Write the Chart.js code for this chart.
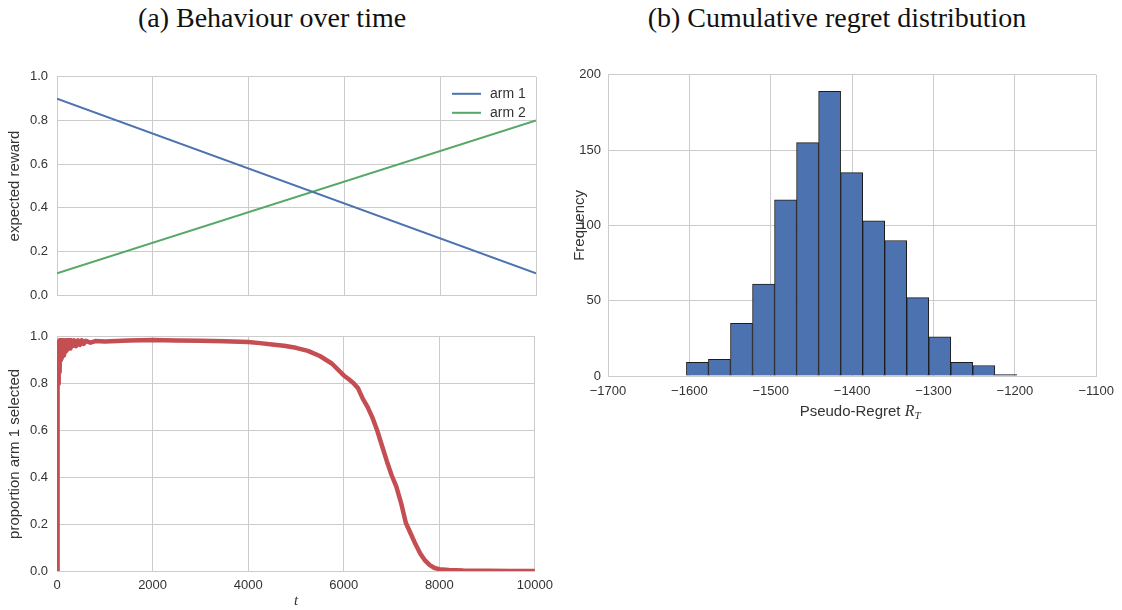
<!DOCTYPE html>
<html>
<head>
<meta charset="utf-8">
<script src="https://cdn.jsdelivr.net/npm/chart.js@4"></script>
<style>
  body { margin: 0; background: #fff; width: 1122px; height: 610px; overflow: hidden; position: relative; }
  .box { position: absolute; }
  .title { position: absolute; font-family: "Liberation Serif", "DejaVu Serif", serif; font-size: 28px; color: #111; white-space: nowrap; transform: translateX(-50%); }
</style>
</head>
<body>
<div class="title" style="left:272px; top:2px;">(a) Behaviour over time</div>
<div class="title" style="left:837px; top:2px;">(b) Cumulative regret distribution</div>

<div class="box" style="left:0; top:60px; width:560px; height:252px;"><canvas id="reward"></canvas></div>
<div class="box" style="left:0; top:320px; width:560px; height:290px;"><canvas id="proportion"></canvas></div>
<div class="box" style="left:560px; top:60px; width:562px; height:370px;"><canvas id="regret"></canvas></div>

<script>
// expected reward of each arm
const tArms = [0, 10000];
const arm1Reward = [0.9, 0.1];
const arm2Reward = [0.1, 0.8];

// proportion of pulls going to arm 1 (early part follows the noisy band)
const tProp = [0, 4, 8, 12, 16, 20, 25, 30, 35, 40, 45, 50, 60, 70, 80, 90, 100, 115, 130, 145, 160,
  180, 200, 220, 240, 260, 280, 300, 330, 360, 400, 440, 480, 520, 560, 600, 700, 800, 1000, 1500,
  2000, 2500, 3000, 3500, 4000, 4250, 4500, 4750, 5000, 5250, 5500, 5750, 6000, 6100, 6200, 6300,
  6400, 6500, 6600, 6700, 6800, 6900, 7000, 7100, 7200, 7300, 7400, 7500, 7600, 7700, 7800, 7900,
  8000, 8200, 8500, 9000, 9500, 10000];
const propArm1 = [0.0, 0.58, 0.37, 0.8, 0.6, 0.9, 0.8, 0.97, 0.82, 0.98, 0.85, 0.985, 0.86, 0.985,
  0.9, 0.985, 0.91, 0.985, 0.92, 0.985, 0.93, 0.985, 0.94, 0.985, 0.95, 0.985, 0.95, 0.985, 0.96,
  0.985, 0.96, 0.985, 0.965, 0.985, 0.97, 0.983, 0.975, 0.982, 0.98, 0.984, 0.986, 0.984, 0.983,
  0.981, 0.978, 0.973, 0.967, 0.962, 0.953, 0.94, 0.918, 0.886, 0.835, 0.82, 0.803, 0.78, 0.735,
  0.7, 0.655, 0.6, 0.535, 0.47, 0.41, 0.36, 0.29, 0.205, 0.16, 0.115, 0.075, 0.045, 0.025, 0.013,
  0.008, 0.004, 0.002, 0.001, 0.0005, 0.0];

// histogram of cumulative pseudo-regret
const binEdges = [-1603.6, -1576.6, -1549.5, -1522.4, -1495.3, -1468.3, -1441.2, -1414.1, -1387.0,
  -1360.0, -1332.9, -1305.8, -1278.7, -1251.7, -1224.6, -1197.5];
const binCounts = [9, 11, 35, 61, 117, 155, 189, 135, 103, 90, 52, 26, 9, 7, 1];

const gridColor = "#cccccc";
const tickColor = "#333333";
const sans = "'Liberation Sans', Arial, sans-serif";
const minus = (v) => String(v).replace("-", "\u2212");

Chart.defaults.font.family = sans;
Chart.defaults.font.size = 13;
Chart.defaults.color = tickColor;
Chart.defaults.animation = false;
Chart.defaults.responsive = true;
Chart.defaults.maintainAspectRatio = false;

const pts = (xs, ys) => xs.map((x, i) => ({ x: x, y: ys[i] }));

// rotated y axis label (drawn by hand so it is not squeezed)
const yLabel = {
  id: "yLabel",
  afterDraw(chart, args, opts) {
    const { ctx, chartArea } = chart;
    ctx.save();
    ctx.translate(opts.x, (chartArea.top + chartArea.bottom) / 2);
    ctx.rotate(-Math.PI / 2);
    ctx.font = "15px " + sans;
    ctx.fillStyle = tickColor;
    ctx.textAlign = "center";
    ctx.textBaseline = "middle";
    ctx.fillText(opts.text, 0, 0);
    ctx.restore();
  },
};

// legend drawn inside the plot, top right
const innerLegend = {
  id: "innerLegend",
  afterDraw(chart) {
    const { ctx, chartArea } = chart;
    ctx.save();
    ctx.font = "14px " + sans;
    ctx.textBaseline = "middle";
    chart.data.datasets.forEach((ds, i) => {
      const y = chartArea.top + 17 + i * 19;
      ctx.strokeStyle = ds.borderColor;
      ctx.lineWidth = 2;
      ctx.beginPath();
      ctx.moveTo(chartArea.right - 84, y);
      ctx.lineTo(chartArea.right - 55, y);
      ctx.stroke();
      ctx.fillStyle = tickColor;
      ctx.fillText(ds.label, chartArea.right - 46, y);
    });
    ctx.restore();
  },
};

new Chart(document.getElementById("reward"), {
  type: "line",
  data: {
    datasets: [
      { label: "arm 1", data: pts(tArms, arm1Reward), borderColor: "#4c72b0", borderWidth: 2, pointRadius: 0 },
      { label: "arm 2", data: pts(tArms, arm2Reward), borderColor: "#55a868", borderWidth: 2, pointRadius: 0 },
    ],
  },
  options: {
    layout: { padding: { top: 14, right: 24, bottom: 0, left: 0 } },
    plugins: { legend: { display: false }, tooltip: { enabled: false }, yLabel: { text: "expected reward", x: 15 } },
    scales: {
      x: {
        type: "linear", min: 0, max: 10000,
        ticks: { display: false, stepSize: 2000 },
        grid: { color: gridColor, drawTicks: false },
        border: { color: gridColor },
        afterFit: (s) => { s.height = 2; },
      },
      y: {
        min: 0, max: 1,
        ticks: { stepSize: 0.2, padding: 9, callback: (v) => v.toFixed(1) },
        grid: { color: gridColor, drawTicks: false },
        border: { color: gridColor },
        afterFit: (s) => { s.width = 57; },
      },
    },
  },
  plugins: [innerLegend, yLabel],
});

new Chart(document.getElementById("proportion"), {
  type: "line",
  data: {
    datasets: [
      { label: "proportion", data: pts(tProp, propArm1), borderColor: "#c44e52", borderWidth: 4.5, pointRadius: 0, borderJoinStyle: "round" },
    ],
  },
  options: {
    layout: { padding: { top: 16, right: 24, bottom: 0, left: 0 } },
    plugins: { legend: { display: false }, tooltip: { enabled: false }, yLabel: { text: "proportion arm 1 selected", x: 15 } },
    scales: {
      x: {
        type: "linear", min: 0, max: 10000,
        ticks: { stepSize: 2000, padding: 7, callback: (v) => String(v) },
        grid: { color: gridColor, drawTicks: false },
        border: { color: gridColor },
        title: { display: true, text: "t", font: { family: "'Liberation Serif', serif", style: "italic", size: 15 }, padding: { top: 0, bottom: 0 } },
        afterFit: (s) => { s.height = 39; },
      },
      y: {
        min: 0, max: 1,
        ticks: { stepSize: 0.2, padding: 9, callback: (v) => v.toFixed(1) },
        grid: { color: gridColor, drawTicks: false },
        border: { color: gridColor },
        afterFit: (s) => { s.width = 57; },
      },
    },
  },
  plugins: [yLabel],
});

// x-axis label with math subscript R_T
const regretLabel = {
  id: "regretLabel",
  afterDraw(chart) {
    const { ctx, chartArea } = chart;
    const a = "Pseudo-Regret ";
    ctx.save();
    ctx.fillStyle = tickColor;
    ctx.textBaseline = "alphabetic";
    ctx.font = "15px " + sans;
    const wa = ctx.measureText(a).width;
    ctx.font = "italic 16px 'Liberation Serif', serif";
    const wr = ctx.measureText("R").width;
    ctx.font = "italic 11px 'Liberation Serif', serif";
    const wt = ctx.measureText("T").width;
    const x0 = (chartArea.left + chartArea.right) / 2 + 8 - (wa + wr + wt) / 2;
    const y = chartArea.bottom + 40;
    ctx.font = "15px " + sans;
    ctx.fillText(a, x0, y);
    ctx.font = "italic 16px 'Liberation Serif', serif";
    ctx.fillText("R", x0 + wa, y);
    ctx.font = "italic 11px 'Liberation Serif', serif";
    ctx.fillText("T", x0 + wa + wr, y + 3);
    ctx.restore();
  },
};

new Chart(document.getElementById("regret"), {
  type: "bar",
  data: {
    datasets: [
      {
        label: "Frequency",
        data: binCounts.map((c, i) => ({ x: (binEdges[i] + binEdges[i + 1]) / 2, y: c })),
        backgroundColor: "#4c72b0",
        borderColor: "#1c1c1c",
        borderWidth: 1,
        barPercentage: 1,
        categoryPercentage: 1,
      },
    ],
  },
  options: {
    layout: { padding: { top: 14, right: 18, bottom: 0, left: 0 } },
    plugins: { legend: { display: false }, tooltip: { enabled: false }, yLabel: { text: "Frequency", x: 20 } },
    scales: {
      x: {
        type: "linear", min: -1700, max: -1100, offset: false,
        ticks: { stepSize: 100, padding: 8, callback: minus },
        grid: { color: gridColor, drawTicks: false, offset: false },
        border: { color: gridColor },
        afterFit: (s) => { s.height = 54; },
      },
      y: {
        min: 0, max: 200,
        ticks: { stepSize: 50, padding: 7 },
        grid: { color: gridColor, drawTicks: false },
        border: { color: gridColor },
        afterFit: (s) => { s.width = 48; },
      },
    },
  },
  plugins: [regretLabel, yLabel],
});
</script>
</body>
</html>
